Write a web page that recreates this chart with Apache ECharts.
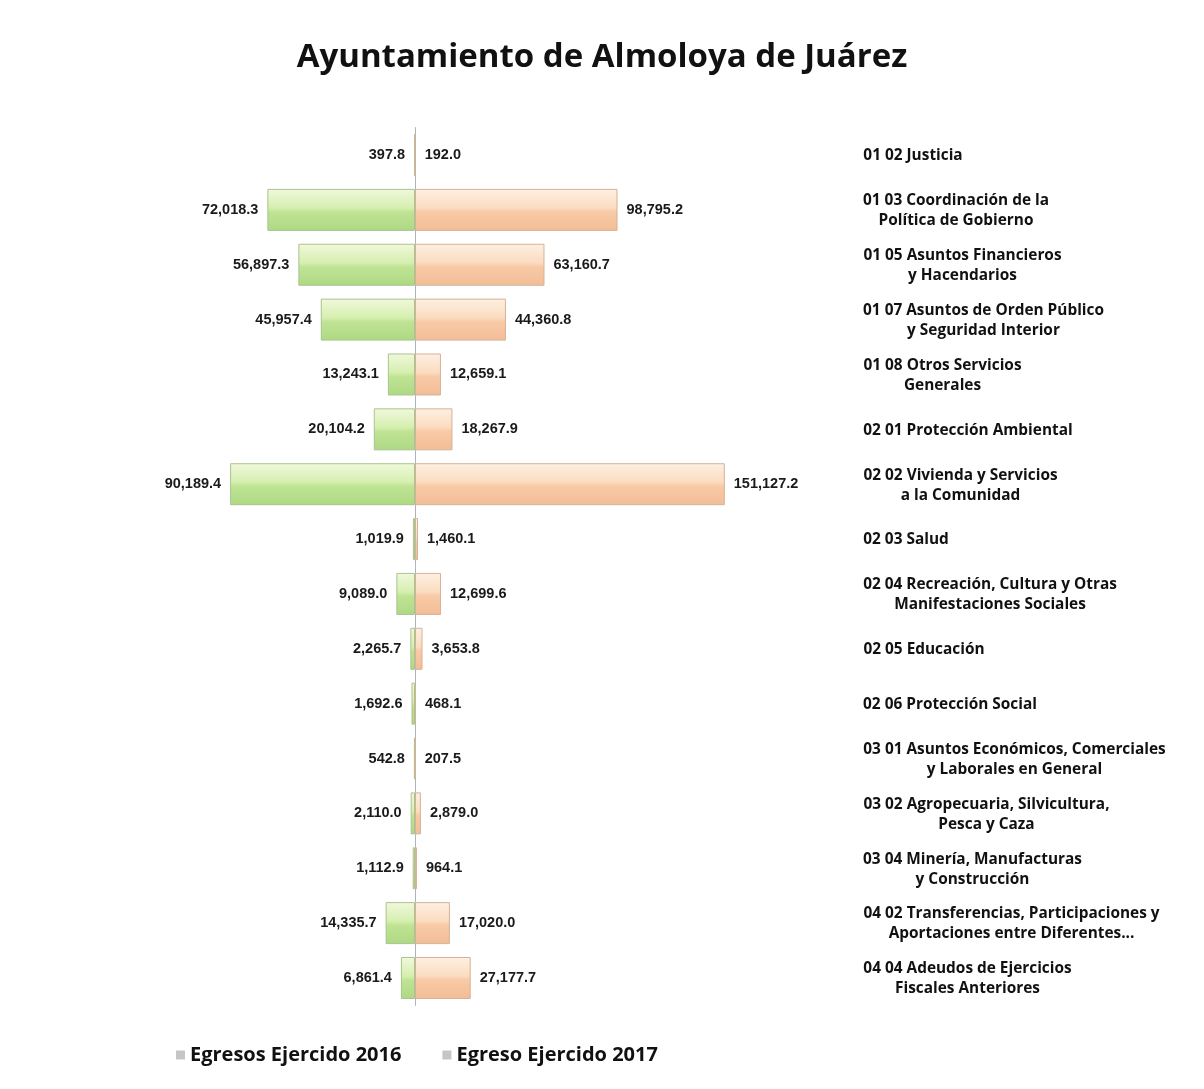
<!DOCTYPE html>
<html>
<head>
<meta charset="utf-8">
<script src="https://cdn.jsdelivr.net/npm/echarts@6/dist/echarts.min.js"></script>
<style>html,body{margin:0;padding:0;background:#fff;}#c{width:1204px;height:1089px;}</style>
</head>
<body>
<div id="c"></div>
<script>
const titleText = 'Ayuntamiento de Almoloya de Juárez';
const categories = [
  '01 02 Justicia',
  '01 03 Coordinación de la\nPolítica de Gobierno',
  '01 05 Asuntos Financieros\ny Hacendarios',
  '01 07 Asuntos de Orden Público\ny Seguridad Interior',
  '01 08 Otros Servicios\nGenerales',
  '02 01 Protección Ambiental',
  '02 02 Vivienda y Servicios\na la Comunidad',
  '02 03 Salud',
  '02 04 Recreación, Cultura y Otras\nManifestaciones Sociales',
  '02 05 Educación',
  '02 06 Protección Social',
  '03 01 Asuntos Económicos, Comerciales\ny Laborales en General',
  '03 02 Agropecuaria, Silvicultura,\nPesca y Caza',
  '03 04 Minería, Manufacturas\ny Construcción',
  '04 02 Transferencias, Participaciones y\nAportaciones entre Diferentes...',
  '04 04 Adeudos de Ejercicios\nFiscales Anteriores'
];
const seriesNames = ['Egresos Ejercido 2016', 'Egreso Ejercido 2017'];
const egresos2016 = [397.8, 72018.3, 56897.3, 45957.4, 13243.1, 20104.2, 90189.4, 1019.9, 9089.0, 2265.7, 1692.6, 542.8, 2110.0, 1112.9, 14335.7, 6861.4];
const egresos2017 = [192.0, 98795.2, 63160.7, 44360.8, 12659.1, 18267.9, 151127.2, 1460.1, 12699.6, 3653.8, 468.1, 207.5, 2879.0, 964.1, 17020.0, 27177.7];

const nf = new Intl.NumberFormat('en-US', {minimumFractionDigits: 1, maximumFractionDigits: 1});
const catFamily = 'Open Sans';
const catSize = 15.4;
const cv = document.createElement('canvas').getContext('2d');
cv.font = 'bold ' + catSize + 'px "' + catFamily + '"';
const rich = {};
categories.forEach((c, i) => {
  const w = Math.max(...c.split('\n').map(l => cv.measureText(l).width));
  rich['c' + i] = {width: Math.ceil(w) + 2, align: 'center', fontFamily: catFamily, fontWeight: 'bold', fontSize: catSize, lineHeight: 20, color: '#111'};
});

const chart = echarts.init(document.getElementById('c'));
const greenGrad = new echarts.graphic.LinearGradient(0, 0, 0, 1, [
  {offset: 0, color: '#f1f8dc'}, {offset: 0.45, color: '#d6efb0'}, {offset: 0.55, color: '#bfe494'}, {offset: 1, color: '#aed883'}
]);
const orangeGrad = new echarts.graphic.LinearGradient(0, 0, 0, 1, [
  {offset: 0, color: '#fdf0e2'}, {offset: 0.45, color: '#fbdcc0'}, {offset: 0.55, color: '#f8caa6'}, {offset: 1, color: '#f2bd97'}
]);

chart.setOption({
  animation: false,
  backgroundColor: '#fff',
  title: {
    text: titleText, left: 'center', top: 36,
    textStyle: {fontFamily: catFamily, fontWeight: 'bold', fontSize: 33, color: '#111'}
  },
  legend: {
    left: 171, top: 1040, itemWidth: 9, itemHeight: 9, itemGap: 41, icon: 'rect',
    textStyle: {fontFamily: catFamily, fontWeight: 'bold', fontSize: 20, color: '#111'},
    data: [
      {name: seriesNames[0], itemStyle: {color: '#c6c6c6', borderWidth: 0}},
      {name: seriesNames[1], itemStyle: {color: '#c6c6c6', borderWidth: 0}}
    ]
  },
  grid: {left: 210, right: 461, top: 127.6, bottom: 83.6, containLabel: false},
  xAxis: {type: 'value', min: -100000, max: 160000, show: false},
  yAxis: [
    {
      type: 'category', inverse: true, data: categories,
      axisLine: {show: true, onZero: true, lineStyle: {color: '#a9b4c0', width: 1}},
      axisTick: {show: false}, axisLabel: {show: false}, splitLine: {show: false}
    },
    {
      type: 'category', inverse: true, data: categories, position: 'right',
      axisLine: {show: false}, axisTick: {show: false}, splitLine: {show: false},
      axisLabel: {
        show: true, margin: 119, align: 'left', padding: [2, 0, 0, 0],
        formatter: (v, i) => v.split('\n').map(l => '{c' + i + '|' + l + '}').join('\n'),
        rich: rich
      }
    }
  ],
  series: [
    {
      name: seriesNames[0], type: 'bar', yAxisIndex: 0, barWidth: 42, barGap: '-100%',
      data: egresos2016.map(v => -v),
      itemStyle: {color: greenGrad, borderColor: '#a9c48e', borderWidth: 1},
      label: {
        show: true, position: 'left', distance: 9,
        formatter: p => nf.format(Math.abs(p.value)),
        fontFamily: 'Liberation Sans', fontWeight: 'bold', fontSize: 14.5, color: '#1a1a1a'
      }
    },
    {
      name: seriesNames[1], type: 'bar', yAxisIndex: 0, barWidth: 42, barGap: '-100%',
      data: egresos2017,
      itemStyle: {color: orangeGrad, borderColor: '#d4b398', borderWidth: 1},
      label: {
        show: true, position: 'right', distance: 9,
        formatter: p => nf.format(p.value),
        fontFamily: 'Liberation Sans', fontWeight: 'bold', fontSize: 14.5, color: '#1a1a1a'
      }
    }
  ]
});
</script>
</body>
</html>
